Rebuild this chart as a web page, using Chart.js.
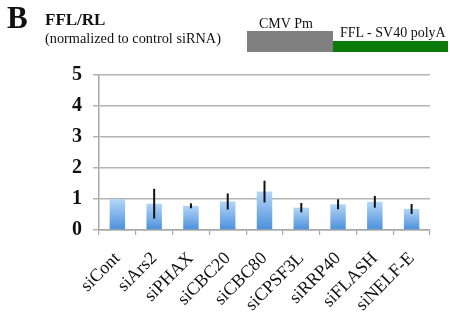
<!DOCTYPE html>
<html>
<head>
<meta charset="utf-8">
<script src="https://cdn.jsdelivr.net/npm/chart.js@4"></script>
<style>
  body { margin: 0; background: #fff; }
  #wrap { position: relative; width: 450px; height: 312px; font-family: "Liberation Serif", "Times New Roman", serif; }
  #chart { position: absolute; left: 0; top: 0; }
  .lbl { position: absolute; white-space: nowrap; color: #111; }
  .box { position: absolute; }
</style>
</head>
<body>
<div id="wrap">
  <canvas id="chart" width="450" height="312"></canvas>
  <div class="lbl" style="left:7px; top:0px; font-size:31px; font-weight:bold;">B</div>
  <div class="lbl" style="left:45px; top:10px; font-size:17px; font-weight:bold;">FFL/RL</div>
  <div class="lbl" style="left:45px; top:30px; font-size:14.3px;">(normalized to control siRNA)</div>
  <div class="lbl" style="left:259px; top:16px; font-size:14px;">CMV Pm</div>
  <div class="lbl" style="left:340px; top:25px; font-size:14px;">FFL - SV40 polyA</div>
  <div class="box" style="left:247px; top:31px; width:86px; height:21px; background:#808080;"></div>
  <div class="box" style="left:333px; top:41px; width:115px; height:11px; background:#0a7a0a;"></div>
</div>
<script>
// data
const categories = ["siCont", "siArs2", "siPHAX", "siCBC20", "siCBC80", "siCPSF3L", "siRRP40", "siFLASH", "siNELF-E"];
const ratios = [1.0, 0.85, 0.78, 0.92, 1.24, 0.72, 0.83, 0.91, 0.68];
const errors = [0, 0.48, 0.08, 0.26, 0.35, 0.15, 0.16, 0.19, 0.16];
const yTicks = [0, 1, 2, 3, 4, 5];

// vertical gradient for each bar, light at top
function barFill(ctx) {
  const chart = ctx.chart;
  if (!chart.chartArea) return "#6aa6e6";
  const y = chart.scales.y;
  const top = y.getPixelForValue(ctx.raw);
  const bottom = y.getPixelForValue(0);
  const g = chart.ctx.createLinearGradient(0, top, 0, bottom);
  g.addColorStop(0, "#b4d6f7");
  g.addColorStop(1, "#4a8fdc");
  return g;
}

// error bars drawn through the scales
const errorBars = {
  id: "errorBars",
  afterDatasetsDraw(chart) {
    const { ctx, scales } = chart;
    const meta = chart.getDatasetMeta(0);
    ctx.save();
    ctx.strokeStyle = "#111";
    ctx.lineWidth = 2;
    meta.data.forEach((bar, i) => {
      if (!errors[i]) return;
      const yHi = scales.y.getPixelForValue(ratios[i] + errors[i]);
      const yLo = scales.y.getPixelForValue(ratios[i] - errors[i]);
      ctx.beginPath();
      ctx.moveTo(bar.x, yHi);
      ctx.lineTo(bar.x, yLo);
      ctx.stroke();
    });
    ctx.restore();
  }
};

new Chart(document.getElementById("chart"), {
  type: "bar",
  data: {
    labels: categories,
    datasets: [{
      data: ratios,
      backgroundColor: barFill,
      borderWidth: 0,
      barPercentage: 0.42,
      categoryPercentage: 1
    }]
  },
  options: {
    responsive: false,
    animation: false,
    layout: { padding: { top: 75, right: 20, left: 0, bottom: 0 } },
    plugins: { legend: { display: false }, tooltip: { enabled: false } },
    scales: {
      x: {
        grid: { offset: true, drawOnChartArea: false, color: "#a8a8a8", tickLength: 5, lineWidth: 1.2 },
        border: { color: "#a8a8a8", width: 1.5 },
        ticks: {
          color: "#111",
          font: { family: "Liberation Serif", size: 18 },
          maxRotation: 45, minRotation: 45, padding: 13
        },
        afterFit(scale) { scale.height = 82; }
      },
      y: {
        min: 0, max: 5,
        afterBuildTicks(scale) { scale.ticks = yTicks.map(v => ({ value: v })); },
        grid: { color: "#b4b4b4", lineWidth: 1.5, tickLength: 6 },
        border: { color: "#a8a8a8", width: 1.5 },
        ticks: {
          color: "#111",
          font: { family: "Liberation Serif", size: 20, weight: "bold" },
          padding: 11
        },
        afterFit(scale) { scale.width = 99; }
      }
    }
  },
  plugins: [errorBars]
});
</script>
</body>
</html>
